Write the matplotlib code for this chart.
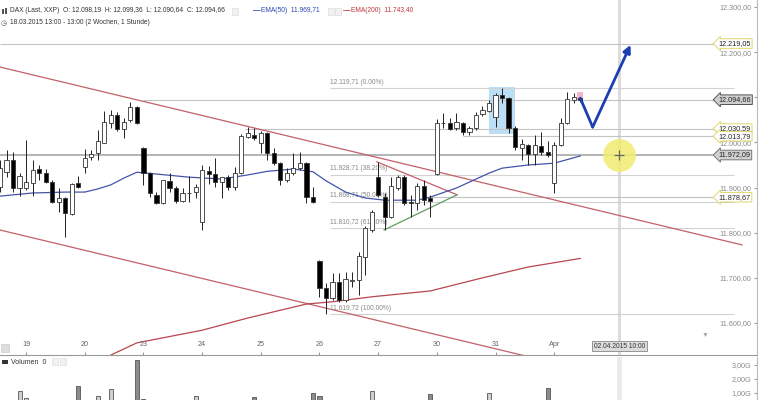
import numpy as np
import matplotlib.pyplot as plt
from matplotlib.patches import Rectangle
from matplotlib.transforms import blended_transform_factory

plt.rcParams['font.family'] = ['Liberation Sans', 'DejaVu Sans']

# hourly DAX candles, index 1 = 18.03. 14:00, 9 candles per day
idx = list(range(1, 91))
opens = [11901, 11935, 11961, 11899, 11899, 11910, 11941, 11932, 11912, 11868,
         11877, 11841, 11910, 11946, 11968, 11977, 11999, 12043, 12061, 12030,
         12050, 12079, 11988, 11932, 11884, 11866, 11915, 11899, 11870, 11889,
         11890, 11824, 11937, 11930, 11912, 11923, 11901, 11932, 12012, 12016,
         11999, 12021, 11977, 11954, 11917, 11932, 11943, 11954, 11879, 11737,
         11678, 11655, 11691, 11651, 11694, 11695, 11746, 11806, 11923, 11879,
         11835, 11899, 11923, 11867, 11866, 11903, 11877, 11930, 12042, 12043,
         12032, 12043, 12023, 12032, 12063, 12070, 12056, 12105, 12098, 12032,
         11988, 11994, 11974, 11992, 11979, 11910, 11994, 12043, 12094, 12098.19]
highs = [11961, 11983, 11979, 11932, 12005, 11961, 11950, 11941, 11917, 11899,
         11879, 11910, 11926, 11985, 11983, 12028, 12070, 12072, 12067, 12054,
         12090, 12081, 11990, 11935, 11890, 11917, 11932, 11903, 11899, 11926,
         11908, 11950, 11948, 11966, 11923, 11928, 11946, 12019, 12034, 12032,
         12025, 12023, 11988, 11957, 11943, 11977, 11979, 11957, 11901, 11740,
         11689, 11711, 11711, 11713, 11713, 11757, 11815, 11850, 11957, 11888,
         11923, 11928, 11928, 11884, 11910, 11917, 11884, 12052, 12065, 12054,
         12065, 12045, 12036, 12067, 12081, 12094, 12110, 12120, 12101, 12036,
         12008, 11997, 12016, 12023, 12003, 12001, 12054, 12112, 12110, 12099.36]
lows = [11890, 11923, 11890, 11881, 11895, 11881, 11917, 11910, 11866, 11846,
        11791, 11839, 11899, 11932, 11961, 11961, 11999, 12032, 12025, 12010,
        12045, 12041, 11906, 11879, 11864, 11864, 11890, 11866, 11868, 11868,
        11877, 11806, 11908, 11901, 11877, 11895, 11895, 11930, 12010, 12005,
        11977, 11961, 11950, 11906, 11912, 11928, 11939, 11866, 11866, 11658,
        11620, 11651, 11647, 11647, 11680, 11662, 11706, 11802, 11879, 11806,
        11833, 11895, 11861, 11835, 11850, 11861, 11835, 11928, 12032, 12028,
        12028, 12016, 12016, 12028, 12059, 12067, 12034, 12087, 12021, 11983,
        11961, 11950, 11950, 11972, 11968, 11888, 11992, 12041, 12087, 12090.64]
closes = [11943, 11961, 11899, 11926, 11912, 11939, 11932, 11912, 11868, 11877,
          11844, 11908, 11901, 11966, 11974, 12003, 12045, 12061, 12030, 12045,
          12079, 12043, 11932, 11888, 11866, 11917, 11899, 11870, 11888, 11887,
          11901, 11939, 11930, 11912, 11923, 11901, 11932, 12014, 12021, 12010,
          12021, 11977, 11954, 11917, 11932, 11943, 11954, 11879, 11868, 11678,
          11655, 11691, 11651, 11697, 11696, 11748, 11810, 11846, 11884, 11835,
          11903, 11923, 11866, 11865, 11903, 11872, 11870, 12043, 12044, 12030,
          12045, 12023, 12032, 12061, 12072, 12087, 12105, 12098, 12032, 11990,
          11997, 11974, 11994, 11979, 11972, 11994, 12043, 12096, 12101, 12094.66]

ema50_idx = [1, 6, 11, 14, 16, 18, 20, 22, 25, 30, 35, 39, 42, 46, 49, 51, 54, 57, 60, 65, 67, 71, 76, 78, 82, 86, 90]
ema50_val = [11881, 11888, 11890, 11890, 11897, 11906, 11921, 11934, 11930, 11923, 11919, 11928, 11936, 11941,
             11935, 11915, 11890, 11877, 11872, 11872, 11879, 11899, 11932, 11943, 11950, 11954, 11970]
ema200_idx = [18, 22, 32, 39, 48, 52, 58, 67, 75, 82, 90]
ema200_val = [11529, 11556, 11584, 11611, 11642, 11647, 11658, 11671, 11700, 11724, 11743]

vol_idx = [4, 5, 13, 16, 18, 22, 23, 31, 40, 49, 50, 58, 67, 76, 85]
vol_val = [1.16, 0.64, 1.5, 0.79, 1.29, 3.36, 0.57, 0.79, 0.71, 1.0, 0.79, 1.14, 0.91, 0.98, 1.38]

day_ticks = [5, 14, 23, 32, 41, 50, 59, 68, 77, 86]
day_labels = ['19', '20', '23', '24', '25', '26', '27', '30', '31', 'Apr']

# drawn lines (index, price)
channel_top = ([1, 114.8], [12167, 11773])
channel_bot = ([1, 114.8], [11806, 11412])
tri_red = ([58.8, 71.1], [11957, 11884])
tri_green = ([59.9, 71.1], [11806, 11884])
arrow_pts = ([90, 91.9, 97.7], [12098, 12034, 12216])

fib_levels = [12119.71, 11928.71, 11868.71, 11810.72, 11619.72]
fib_pct = ['0.00%', '38.20%', '50.00%', '61.80%', '100.00%']
fib_start = 51.6

hlines = [12219.05, 12094.66, 12030.59, 12013.79, 11972.09, 11878.67]
hline_start = [1, 23, 38.6, 72, 1, 67]
price_ticks = [11600, 11700, 11800, 11900, 12000, 12100, 12200, 12300]
cross_idx = 96
cross_price = 11972.09


def de(v):
    return f"{v:,.2f}".replace(',', 'X').replace('.', ',').replace('X', '.')


W, H = 760, 400
fig = plt.figure(figsize=(7.6, 4.0), dpi=100)

ax = fig.add_axes([0, 45 / H, 757 / W, 355 / H])
ax.set_xlim(1.0, 117.1)
ax.set_ylim(11529.1, 12315.5)
for s in ['top', 'left']:
    ax.spines[s].set_visible(False)
ax.spines['bottom'].set_color('#999999')
ax.spines['right'].set_color('#bbbbbb')
ax.spines['bottom'].set_linewidth(0.8)
ax.spines['right'].set_linewidth(0.8)

ax.set_xticks(day_ticks, day_labels)
ax.tick_params(axis='x', direction='in', length=2.5, pad=-10, labelsize=5.2, colors='#999999', labelcolor='#666666')
ax.yaxis.tick_right()
ax.set_yticks(price_ticks, [de(p) for p in price_ticks])
ax.tick_params(axis='y', direction='in', length=2.5, pad=-4, labelsize=5.2, colors='#999999', labelcolor='#8a8a8a')
for lab in ax.get_yticklabels():
    lab.set_ha('right')

bx = blended_transform_factory(ax.transAxes, ax.transData)
by = blended_transform_factory(ax.transData, ax.transAxes)

# blue highlight box and crosshair
ax.add_patch(Rectangle((76.0, 12019), 4.0, 104, color='#bcdff5', zorder=0.5, lw=0))
ax.axvline(cross_idx, color='#dcdcdc', lw=2.2, zorder=0.6)

# horizontal levels
for lev, st in zip(hlines, hline_start):
    dark = lev == 11972.09
    ax.hlines(lev, st, 113.5, color='#a8a8a8' if dark else '#c4c4c4', lw=1.2 if dark else 0.8, zorder=0.7)
for lev, pct in zip(fib_levels, fib_pct):
    ax.hlines(lev, fib_start, 113.5, color='#d2d2d2', lw=0.8, zorder=0.7)
    ax.text(fib_start, lev + 5, f"{de(lev)} ({pct})", fontsize=4.8, color='#888888', va='bottom', ha='left', zorder=1)

# trend lines
ax.plot(*channel_top, color='#c4606a', lw=0.9, zorder=0.8)
ax.plot(*channel_bot, color='#c4606a', lw=0.9, zorder=0.8)
ax.plot(*tri_red, color='#c4606a', lw=0.9, zorder=0.8)
ax.plot(*tri_green, color='#5f9c5f', lw=0.9, zorder=0.8)

# emas
ax.plot(ema50_idx, ema50_val, color='#4455a8', lw=0.9, zorder=1)
ax.plot(ema200_idx, ema200_val, color='#b8464f', lw=0.9, zorder=1)

# candles
for i, o, h, l, c in zip(idx, opens, highs, lows, closes):
    ax.vlines(i, l, h, color='#222222', lw=0.7, zorder=2)
    lo, hi = min(o, c), max(o, c)
    up = c >= o
    ax.add_patch(Rectangle((i - 0.32, lo), 0.64, max(hi - lo, 1.5),
                           facecolor='white' if up else 'black', edgecolor='#333333', lw=0.6, zorder=3))

# last candle highlight
ax.add_patch(Rectangle((89.55, 12091), 0.9, 20, color='#f2b6c6', zorder=1.5, lw=0))

# arrow
ax.plot(arrow_pts[0][:2], arrow_pts[1][:2], color='#1d3db4', lw=2.0, zorder=4, solid_capstyle='round')
ax.annotate('', xy=(arrow_pts[0][2], arrow_pts[1][2]), xytext=(arrow_pts[0][1], arrow_pts[1][1]),
            arrowprops=dict(arrowstyle='-|>', color='#1d3db4', lw=2.0, mutation_scale=11, shrinkA=0, shrinkB=0), zorder=4)

# crosshair circle
ax.scatter([cross_idx], [cross_price], s=560, color='#f1ec70', alpha=0.85, lw=0, zorder=4)
ax.scatter([cross_idx], [cross_price], s=55, marker='+', color='#666666', lw=0.9, zorder=5)

# price boxes at right
box_labels = [(12219.05, 'white', '#e2d46a'), (12094.66, '#cfcfcf', '#555555'), (12030.59, 'white', '#e2d46a'),
              (12013.79, 'white', '#e2d46a'), (11972.09, '#d0d0d0', '#777777'), (11878.67, 'white', '#e2d46a')]
for lev, fc, ec in box_labels:
    ax.text(0.949, lev, de(lev), transform=bx, fontsize=5.2, color='#222222', va='center', ha='left', zorder=6,
            bbox=dict(boxstyle='larrow,pad=0.18', fc=fc, ec=ec, lw=0.7))

ax.text(cross_idx, 0.025, '02.04.2015 10:00', transform=by, fontsize=4.8, color='#333333', ha='center', va='center',
        zorder=6, bbox=dict(boxstyle='square,pad=0.25', fc='#dcdcdc', ec='#888888', lw=0.6))
ax.text(0.931, 0.054, '\u25bc', transform=ax.transAxes, fontsize=5, color='#aaaaaa', ha='center', va='center')

# volume panel
ax2 = fig.add_axes([0, 0, 757 / W, 43 / H])
ax2.set_xlim(1.0, 117.1)
ax2.set_ylim(0.5, 3.57)
for s in ['top', 'left', 'bottom']:
    ax2.spines[s].set_visible(False)
ax2.spines['right'].set_color('#bbbbbb')
ax2.set_xticks([])
ax2.yaxis.tick_right()
ax2.set_yticks([1, 2, 3], ['1,00G', '2,00G', '3,00G'])
ax2.tick_params(axis='y', direction='in', length=2.5, pad=-4, labelsize=5.2, colors='#999999', labelcolor='#8a8a8a')
for lab in ax2.get_yticklabels():
    lab.set_ha('right')
ax2.axvline(cross_idx, color='#ebebeb', lw=3.5, zorder=0.5)
vol_col = ['#cfcfcf' if closes[i - 1] >= opens[i - 1] else '#8c8c8c' for i in vol_idx]
ax2.bar(vol_idx, vol_val, width=0.62, color=vol_col, edgecolor='#555555', lw=0.6)
ax2.text(0.014, 0.88, 'Volumen  0', transform=ax2.transAxes, fontsize=5.0, color='#333333', va='center')
fig.patches.append(Rectangle((2 / W, 1 - 364 / H), 6 / W, 4 / H, transform=fig.transFigure,
                             fc='#333333', ec='none'))
for x0 in [52, 60]:
    fig.patches.append(Rectangle((x0 / W, 1 - 365 / H), 6 / W, 7 / H, transform=fig.transFigure,
                                 fc='#f2f2f2', ec='#dddddd', lw=0.5))

# header
fig.text(10 / W, 1 - 11 / H, 'DAX (Last, XXP)  O: 12.098,19  H: 12.099,36  L: 12.090,64  C: 12.094,66',
         fontsize=4.75, color='#333333', va='center')
fig.text(253 / W, 1 - 11 / H, '\u2014', fontsize=5.5, color='#2a45b0', va='center', fontweight='bold')
fig.text(261 / W, 1 - 11 / H, 'EMA(50)  11.969,71', fontsize=4.75, color='#2a45b0', va='center')
fig.text(343 / W, 1 - 11 / H, '\u2014', fontsize=5.5, color='#c0343c', va='center', fontweight='bold')
fig.text(351 / W, 1 - 11 / H, 'EMA(200)  11.743,40', fontsize=4.75, color='#c0343c', va='center')
fig.text(10 / W, 1 - 23 / H, '18.03.2015 13:00 - 13:00 (2 Wochen, 1 Stunde)', fontsize=4.75, color='#333333', va='center')
fig.text(1 / W, 1 - 23 / H, '\u25f7', fontsize=5, color='#555555', va='center', family=['DejaVu Sans'])
# small candle icon in the header
for x0, y0, hh in [(2, 9, 5), (5, 8, 6)]:
    fig.patches.append(Rectangle((x0 / W, 1 - (y0 + hh) / H), 2 / W, hh / H, transform=fig.transFigure,
                                 fc='#555555', ec='none'))
for x0 in [232, 328, 335]:
    fig.patches.append(Rectangle((x0 / W, 1 - 15 / H), 6 / W, 7 / H, transform=fig.transFigure,
                                 fc='#f2f2f2', ec='#dddddd', lw=0.5))
fig.patches.append(Rectangle((1 / W, 1 - 352 / H), 8 / W, 8 / H, transform=fig.transFigure,
                             fc='#dddddd', ec='#cccccc', lw=0.5))

fig.savefig('out.png', dpi=100)
